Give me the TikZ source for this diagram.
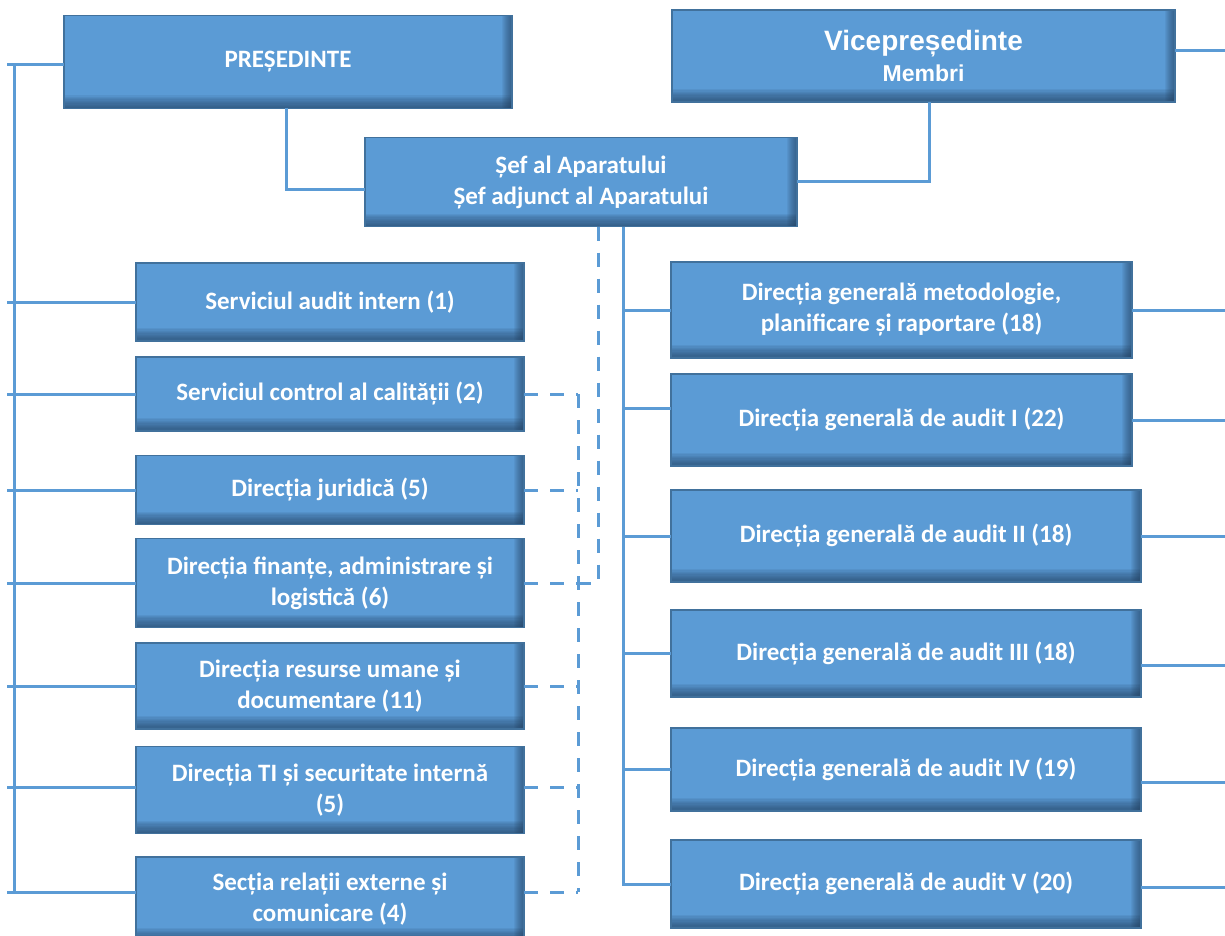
\documentclass[tikz,border=0pt]{standalone}
\usepackage{fontspec}
\setmainfont{Carlito}
\newfontfamily\vicefont{Liberation Sans}
\usepackage{tikz}
\usetikzlibrary{positioning}
\definecolor{ccBlue}{HTML}{5B9BD5}
\definecolor{ccEdge}{HTML}{41719C}
\definecolor{ccDark}{HTML}{23405F}
\tikzset{
  unitbox/.style={
    draw=ccEdge, line width=1.5pt, fill=ccBlue,
    text=white, font=\bfseries\fontsize{25}{31}\selectfont,
    align=center, inner sep=0pt, outer sep=0pt,
    path picture={
      \foreach \k in {1,...,10}{
        \fill[ccDark, opacity=0.08]
          ([xshift=-\k pt]path picture bounding box.north east) rectangle (path picture bounding box.south east);
        \fill[ccDark, opacity=0.09]
          ([yshift={1.3*\k pt}]path picture bounding box.south west) rectangle (path picture bounding box.south east);
      }
    }
  },
  link/.style={draw=ccBlue, line width=3pt},
  dlink/.style={draw=ccBlue, line width=3pt, dash pattern=on 14pt off 12pt}
}

\begin{document}
\begin{tikzpicture}[
  x=1pt, y=-1pt,
  leftunit/.style={unitbox, minimum width=388pt},
  rightunit/.style={unitbox, minimum width=#1},
  rightunit/.default=461pt
]
\useasboundingbox (0,0) rectangle (1225,936);

\node[unitbox, minimum width=448pt, minimum height=93pt] (pres) at (288,62) {PREȘEDINTE};
\node[unitbox, minimum width=503pt, minimum height=92pt, font=\vicefont\bfseries\fontsize{28}{31}\selectfont] (vice) at (923.5,56)
  {Vicepreședinte\\{\fontsize{23}{31}\selectfont Membri}};
\node[unitbox, minimum width=432pt, minimum height=89pt] (sef) at (581,182)
  {Șef al Aparatului\\Șef adjunct al Aparatului};

\node[leftunit, minimum height=78pt] (l1) at (330,302) {Serviciul audit intern (1)};
\node[leftunit, minimum height=74pt] (l2) at (330,394) {Serviciul control al calității (2)};
\node[leftunit, minimum height=69pt] (l3) at (330,490) {Direcția juridică (5)};
\node[leftunit, minimum height=89pt] (l4) at (330,583) {Direcția finanțe, administrare și\\logistică (6)};
\node[leftunit, minimum height=86pt] (l5) at (330,686) {Direcția resurse umane și\\documentare (11)};
\node[leftunit, minimum height=87pt] (l6) at (330,790) {Direcția TI și securitate internă\\(5)};
\node[leftunit, minimum height=84pt] (l7) at (330,899) {Secția relații externe și\\comunicare (4)};

\node[rightunit, minimum height=96pt] (r1) at (901.5,310) {Direcția generală metodologie,\\planificare și raportare (18)};
\node[rightunit, minimum height=92pt] (r2) at (901.5,420) {Direcția generală de audit I (22)};
\node[rightunit=470pt, minimum height=92pt] (r3) at (906,536) {Direcția generală de audit II (18)};
\node[rightunit=470pt, minimum height=87pt] (r4) at (906,653.5) {Direcția generală de audit III (18)};
\node[rightunit=470pt, minimum height=83pt] (r5) at (906,769.5) {Direcția generală de audit IV (19)};
\node[rightunit=470pt, minimum height=88pt] (r6) at (906,884) {Direcția generală de audit V (20)};

\coordinate (bustop) at (14,65);
\coordinate (busbot) at (14,892);
\coordinate (busend) at (7,0);
\coordinate (pdrop) at (286,0);
\coordinate (vdrop) at (929,0);
\coordinate (trunk) at (623,0);
\coordinate (odash) at (598,0);
\coordinate (idash) at (578,0);
\coordinate (redge) at (1226,0);

\draw[link] (bustop) -- (busbot);
\draw[link] ([yshift=-3pt]pres.west) -- ([yshift=-3pt]pres.west -| busend);
\draw[link] (l1.west) -- (l1.west -| busend);
\draw[link] (l2.west) -- (l2.west -| busend);
\draw[link] (l3.west) -- (l3.west -| busend);
\draw[link] (l4.west) -- (l4.west -| busend);
\draw[link] (l5.west) -- (l5.west -| busend);
\draw[link] ([yshift=3pt]l6.west) -- ([yshift=3pt]l6.west -| busend);
\draw[link] ([yshift=7pt]l7.west) -- ([yshift=7pt]l7.west -| busend);

\draw[link] (pres.south -| pdrop) |- ([yshift=-8pt]sef.west);
\draw[link] (vice.south -| vdrop) |- (sef.east);
\draw[link] ([yshift=5pt]vice.east) -- ([yshift=5pt]vice.east -| redge);

\draw[link] (sef.south -| trunk) |- (r6.west);
\draw[link] (r1.west) -- (r1.west -| trunk);
\draw[link] ([yshift=12pt]r2.west) -- ([yshift=12pt]r2.west -| trunk);
\draw[link] (r3.west) -- (r3.west -| trunk);
\draw[link] (r4.west) -- (r4.west -| trunk);
\draw[link] (r5.west) -- (r5.west -| trunk);

\draw[link] (r1.east) -- (r1.east -| redge);
\draw[link] (r2.east) -- (r2.east -| redge);
\draw[link] (r3.east) -- (r3.east -| redge);
\draw[link] ([yshift=-12pt]r4.east) -- ([yshift=-12pt]r4.east -| redge);
\draw[link] ([yshift=-13pt]r5.east) -- ([yshift=-13pt]r5.east -| redge);
\draw[link] ([yshift=-3pt]r6.east) -- ([yshift=-3pt]r6.east -| redge);

\draw[dlink] (sef.south -| odash) |- (l4.east -| idash);
\draw[dlink] (l2.east -| idash) -- ([yshift=7pt]l7.east -| idash);
\draw[dlink] (l2.east) -- (l2.east -| idash);
\draw[dlink] (l3.east) -- (l3.east -| idash);
\draw[dlink] (l4.east) -- (l4.east -| idash);
\draw[dlink] (l5.east) -- (l5.east -| idash);
\draw[dlink] ([yshift=3pt]l6.east) -- ([yshift=3pt]l6.east -| idash);
\draw[dlink] ([yshift=7pt]l7.east) -- ([yshift=7pt]l7.east -| idash);
\end{tikzpicture}
\end{document}
